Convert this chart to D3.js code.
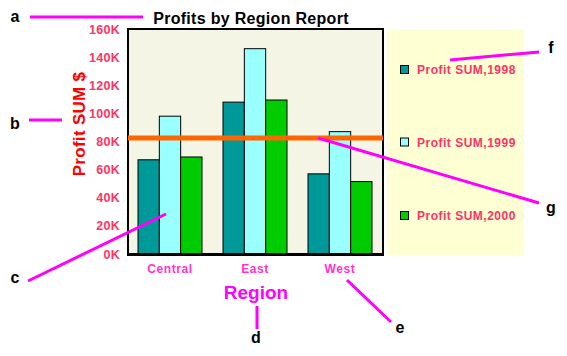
<!DOCTYPE html>
<html><head><meta charset="utf-8">
<script src="https://cdn.jsdelivr.net/npm/d3@7"></script>
<style>body{margin:0;background:#fff;} svg{display:block;font-family:"Liberation Sans",Arial,sans-serif;font-weight:bold;}</style>
</head><body>
<svg id="c" width="567" height="356"></svg>
<script>
const regions = ["Central", "East", "West"];
const seriesNames = ["Profit SUM,1998", "Profit SUM,1999", "Profit SUM,2000"];
const profit1998 = [67000, 108000, 57000];
const profit1999 = [98000, 146000, 87000];
const profit2000 = [69000, 109500, 51500];
const referenceValue = 82500;
const yTicks = [0, 20000, 40000, 60000, 80000, 100000, 120000, 140000, 160000];
const seriesColors = ["#009999", "#99ffff", "#00cc00"];
const annotations = [
  {label:"a", lx:15, ly:17, x1:30, y1:17, x2:143, y2:17},
  {label:"b", lx:15, ly:124, x1:29, y1:120, x2:62, y2:120},
  {label:"c", lx:15, ly:278, x1:28, y1:281, x2:166, y2:214},
  {label:"d", lx:256, ly:338, x1:257, y1:306, x2:257, y2:329},
  {label:"e", lx:400, ly:328, x1:347, y1:280, x2:391, y2:322},
  {label:"f", lx:551, ly:48, x1:450, y1:60, x2:539, y2:52},
  {label:"g", lx:551, ly:208, x1:318, y1:138, x2:539, y2:203}
];

const svg = d3.select("#c");
const L = 128, R = 383, T = 29, B = 254;
const series = [profit1998, profit1999, profit2000];

// legend background
svg.append("rect").attr("x",387).attr("y",29).attr("width",137).attr("height",226).attr("fill","#ffffd4");

// plot background
svg.append("rect").attr("x",L).attr("y",T).attr("width",R-L).attr("height",B-T).attr("fill","#f5f5e6");

const x0 = d3.scaleBand().domain(regions).range([L,R]);
const x1 = d3.scaleBand().domain(d3.range(3)).range([10,74]);
const y = d3.scaleLinear().domain([0,160000]).range([B,T]);

// bars
regions.forEach((r,i)=>{
  const g = svg.append("g").attr("transform",`translate(${x0(r)},0)`);
  series.forEach((s,k)=>{
    g.append("rect").attr("x",x1(k)).attr("y",y(s[i])).attr("width",x1.bandwidth()).attr("height",B-y(s[i]))
      .attr("fill",seriesColors[k]).attr("stroke","#000").attr("stroke-width",1);
  });
});

// frame
svg.append("rect").attr("x",L).attr("y",T).attr("width",R-L).attr("height",B-T).attr("fill","none").attr("stroke","#000").attr("stroke-width",2);
svg.append("line").attr("x1",L-1).attr("x2",R+1).attr("y1",B+0.5).attr("y2",B+0.5).attr("stroke","#000").attr("stroke-width",3);

// reference line
svg.append("line").attr("x1",L).attr("x2",R).attr("y1",y(referenceValue)).attr("y2",y(referenceValue))
  .attr("stroke","#ff6600").attr("stroke-width",5);

// y axis
const yAxis = d3.axisLeft(y).tickValues(yTicks).tickFormat(d=>(d/1000)+"K").tickSize(0).tickPadding(8);
const ya = svg.append("g").attr("transform",`translate(${L},0)`).call(yAxis);
ya.select(".domain").remove();
ya.selectAll("text").attr("fill","#ff3366").attr("font-size",12.5).attr("font-weight","bold").attr("letter-spacing",0.3).attr("font-family","Liberation Sans, Arial, sans-serif");

// x axis
const xAxis = d3.axisBottom(x0).tickSize(0).tickPadding(10);
const xa = svg.append("g").attr("transform",`translate(${-(x0.bandwidth()/2)+42},${B})`).call(xAxis);
xa.select(".domain").remove();
xa.selectAll("text").attr("fill","#ff33cc").attr("font-size",12).attr("font-weight","bold").attr("letter-spacing",0.6).attr("font-family","Liberation Sans, Arial, sans-serif");

// titles
svg.append("text").attr("x",251).attr("y",23.5).attr("text-anchor","middle").attr("font-size",16).attr("letter-spacing",0.3).attr("fill","#000").text("Profits by Region Report");
svg.append("text").attr("transform","translate(85,124) rotate(-90)").attr("text-anchor","middle").attr("font-size",17).attr("letter-spacing",0.3).attr("fill","#ff0000").text("Profit SUM $");
svg.append("text").attr("x",256).attr("y",299).attr("text-anchor","middle").attr("font-size",19).attr("fill","#ff00ff").text("Region");

// legend
const legY = [69.5, 142, 215.5];
seriesNames.forEach((n,k)=>{
  svg.append("rect").attr("x",400.5).attr("y",legY[k]-4).attr("width",8).attr("height",8).attr("fill",seriesColors[k]).attr("stroke","#000").attr("stroke-width",1);
  svg.append("text").attr("x",417).attr("y",legY[k]+4.5).attr("font-size",12).attr("letter-spacing",0.5).attr("fill","#ff3366").text(n);
});

// annotations
annotations.forEach(a=>{
  svg.append("line").attr("x1",a.x1).attr("y1",a.y1).attr("x2",a.x2).attr("y2",a.y2).attr("stroke","#ff00ff").attr("stroke-width",3);
  svg.append("text").attr("x",a.lx).attr("y",a.ly+5).attr("text-anchor","middle").attr("font-size",16).attr("fill","#000").text(a.label);
});
</script>
</body></html>
